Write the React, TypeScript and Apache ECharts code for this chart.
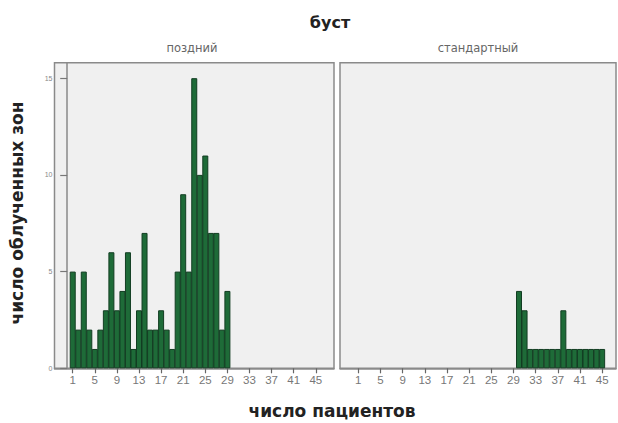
import React, { useEffect, useRef } from "react";
import * as echarts from "echarts";

const title = "буст";
const panelNames = ["поздний", "стандартный"];
const xAxisTitle = "число пациентов";
const yAxisTitle = "число облученных зон";

const latePatients = [1, 2, 3, 4, 5, 6, 7, 8, 9, 10, 11, 12, 13, 14, 15, 16, 17, 18, 19, 20, 21, 22, 23, 24, 25, 26, 27, 28, 29];
const lateCounts = [5, 2, 5, 2, 1, 2, 3, 6, 3, 4, 6, 1, 3, 7, 2, 2, 3, 2, 1, 5, 9, 5, 15, 10, 11, 7, 7, 2, 4];

const standardPatients = [30, 31, 32, 33, 34, 35, 36, 37, 38, 39, 40, 41, 42, 43, 44, 45];
const standardCounts = [4, 3, 1, 1, 1, 1, 1, 1, 3, 1, 1, 1, 1, 1, 1, 1];

const xTickValues = [1, 5, 9, 13, 17, 21, 25, 29, 33, 37, 41, 45];
const yTickValues = [0, 5, 10, 15];

const FONT = "'Liberation Sans', Arial, sans-serif";
const WIDE = "'DejaVu Sans', Verdana, sans-serif";

export default function App() {
  const ref = useRef<HTMLDivElement>(null);
  useEffect(() => {
    if (!ref.current) return;
    const chart = echarts.init(ref.current, null, { renderer: "svg" });
    const gridTop = 62.7;
    const gridH = 305.6;
    const xAxisCommon = (min: number, max: number) => ({
      type: "value",
      min,
      max,
      splitLine: { show: false },
      axisLine: { show: true, lineStyle: { color: "#8a8a8a", width: 1.5 } },
      axisTick: {
        show: true,
        length: 5,
        customValues: xTickValues,
        lineStyle: { color: "#666", width: 1.2 },
      },
      axisLabel: {
        show: true,
        customValues: xTickValues,
        color: "#777",
        fontSize: 11.5,
        fontFamily: FONT,
        margin: 6,
      },
    });
    const barStyle = {
      color: "#1e6b38",
      borderColor: "#123d22",
      borderWidth: 1,
    };
    chart.setOption({
      animation: false,
      backgroundColor: "#ffffff",
      grid: [
        {
          left: 54.5,
          top: gridTop,
          width: 279.5,
          height: gridH,
          show: true,
          backgroundColor: "#f0f0f0",
          borderColor: "#8a8a8a",
          borderWidth: 1.5,
        },
        {
          left: 340,
          top: gridTop,
          width: 276,
          height: gridH,
          show: true,
          backgroundColor: "#f0f0f0",
          borderColor: "#8a8a8a",
          borderWidth: 1.5,
        },
      ],
      xAxis: [
        { gridIndex: 0, ...xAxisCommon(-2.3, 48.3) },
        { gridIndex: 1, ...xAxisCommon(-2.3, 47.5) },
      ],
      yAxis: [
        {
          gridIndex: 0,
          type: "value",
          min: 0,
          max: 15.8,
          splitLine: { show: false },
          axisLine: { show: true, lineStyle: { color: "#8a8a8a", width: 1.5 } },
          axisTick: {
            show: true,
            length: 7,
            customValues: yTickValues,
            lineStyle: { color: "#777", width: 1.2 },
          },
          axisLabel: {
            show: true,
            customValues: yTickValues,
            color: "#888",
            fontSize: 7,
            fontFamily: FONT,
            margin: 2,
          },
        },
        {
          gridIndex: 1,
          type: "value",
          min: 0,
          max: 15.8,
          splitLine: { show: false },
          axisLine: { show: false },
          axisTick: { show: false },
          axisLabel: { show: false },
        },
      ],
      series: [
        {
          type: "bar",
          xAxisIndex: 0,
          yAxisIndex: 0,
          barWidth: 6,
          data: latePatients.map((p, i) => [p, lateCounts[i]]),
          itemStyle: barStyle,
        },
        {
          type: "bar",
          xAxisIndex: 1,
          yAxisIndex: 1,
          barWidth: 6,
          data: standardPatients.map((p, i) => [p, standardCounts[i]]),
          itemStyle: barStyle,
        },
      ],
      graphic: [
        {
          type: "text",
          x: 330,
          y: 22,
          style: {
            text: title,
            fontSize: 16,
            fontWeight: "bold",
            fontFamily: WIDE,
            fill: "#222",
            align: "center",
            verticalAlign: "middle",
          },
        },
        {
          type: "text",
          x: 192,
          y: 48,
          style: {
            text: panelNames[0],
            fontSize: 11.5,
            fontFamily: WIDE,
            fill: "#666",
            align: "center",
            verticalAlign: "middle",
          },
        },
        {
          type: "text",
          x: 478,
          y: 48,
          style: {
            text: panelNames[1],
            fontSize: 11.5,
            fontFamily: WIDE,
            fill: "#666",
            align: "center",
            verticalAlign: "middle",
          },
        },
        {
          type: "text",
          x: 332,
          y: 411,
          style: {
            text: xAxisTitle,
            fontSize: 17,
            fontWeight: "bold",
            fontFamily: WIDE,
            fill: "#222",
            align: "center",
            verticalAlign: "middle",
          },
        },
        {
          type: "text",
          x: 17,
          y: 213,
          rotation: Math.PI / 2,
          style: {
            text: yAxisTitle,
            fontSize: 17,
            fontWeight: "bold",
            fontFamily: WIDE,
            fill: "#222",
            align: "center",
            verticalAlign: "middle",
          },
        },
      ],
    });
    return () => chart.dispose();
  }, []);
  return (
    <div
      ref={ref}
      style={{ position: "fixed", left: 0, top: 0, width: 618, height: 423 }}
    />
  );
}
